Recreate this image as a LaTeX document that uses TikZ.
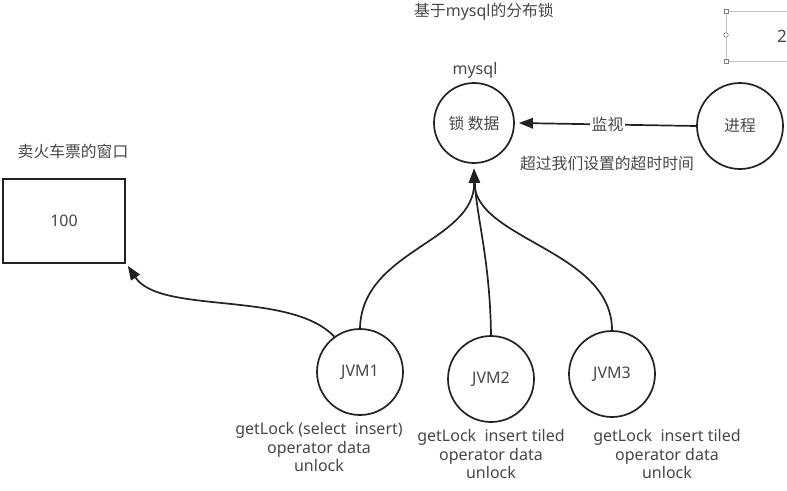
\documentclass[tikz,border=0pt]{standalone}
\usepackage{fontspec}
\setmainfont{Noto Sans}
\newfontfamily\cjk{Noto Sans CJK SC}
\usetikzlibrary{arrows.meta}
\definecolor{txt}{HTML}{474747}
\definecolor{ln}{HTML}{222222}
\definecolor{sel}{HTML}{CDBFC4}
\tikzset{
  circ/.style={circle,draw=ln,line width=1.7pt,inner sep=0pt,minimum size=86pt,text=txt,font=\fontsize{16}{18}\selectfont},
  lbl/.style={text=txt,font=\fontsize{16}{18}\selectfont,inner sep=0pt},
  clbl/.style={text=txt,font=\cjk\fontsize{15.8}{18}\selectfont,inner sep=0pt},
  sub/.style={text=txt,font=\fontsize{16}{18.5}\selectfont,align=center,inner sep=0pt},
  conn/.style={draw=ln,line width=1.7pt,-{Triangle[length=14pt,width=10.5pt]}},
}
\begin{document}
\begin{tikzpicture}[x=1pt,y=-1pt]
\useasboundingbox (0,0) rectangle (787,490);
% titles
\node[lbl] (title) at (484,12) {{\cjk\fontsize{15.8}{18}\selectfont 基于}mysql{\cjk\fontsize{15.8}{18}\selectfont 的分布锁}};
\node[lbl] (mysql) at (475,70) {mysql};
\node[clbl] (win) at (73,151) {卖火车票的窗口};
% partial selected box top right
\draw[sel,line width=0.8pt] (795,11) -- (726,11) -- (726,61) -- (795,61);
\node[draw=gray,fill=white,line width=0.6pt,inner sep=0pt,minimum size=4pt] (h1) at (726,11) {};
\node[draw=gray,fill=white,circle,line width=0.6pt,inner sep=0pt,minimum size=4.5pt] (h2) at (726,35) {};
\node[draw=gray,fill=white,line width=0.6pt,inner sep=0pt,minimum size=4pt] (h3) at (726,61) {};
\node[lbl,anchor=west,font=\fontsize{17}{19}\selectfont] (two) at (777,36) {2};
% box
\node[draw=ln,line width=1.7pt,minimum width=122pt,minimum height=84pt,inner sep=0pt,text=txt,font=\fontsize{16}{18}\selectfont] (box) at (64,221) {100};
% circles
\node[circ,minimum size=80pt,font=\cjk\fontsize{15.8}{18}\selectfont] (lock) at (474,123) {锁 数据};
\node[circ,font=\cjk\fontsize{15.8}{18}\selectfont] (proc) at (740,126) {进程};
\node[circ] (jvm1) at (360,372) {JVM1};
\node[circ] (jvm2) at (491,379) {JVM2};
\node[circ] (jvm3) at (612,374) {JVM3};
% monitor arrow
\coordinate (lockE) at ([xshift=4pt]lock.east);
\draw[conn] (proc.west) -- node[fill=white,clbl,inner sep=2pt] (mon) {监视} (lockE);
\node[clbl] (timeout) at (607,163) {超过我们设置的超时时间};
% connectors to lock
\coordinate (tip) at ([yshift=-5pt]lock.south);
\draw[conn] (jvm1.north) .. controls (362,250) and (475,242) .. (tip);
\draw[conn] (jvm2.north) .. controls (490,260) and (477,220) .. (tip);
\draw[conn] (jvm3.north) .. controls (612,250) and (475,240) .. (tip);
% jvm1 to box
\coordinate (boxC) at ([xshift=2pt,yshift=-2pt]box.south east);
\draw[conn] (jvm1.126) .. controls (290,290) and (160,315) .. (boxC);
% sublabels
\node[sub] (s1) at (319,447) {getLock (select\ \ insert)\\operator data\\unlock};
\node[sub] (s2) at (491,454) {getLock\ \ insert tiled\\operator data\\unlock};
\node[sub] (s3) at (667,454) {getLock\ \ insert tiled\\operator data\\unlock};
\end{tikzpicture}
\end{document}
